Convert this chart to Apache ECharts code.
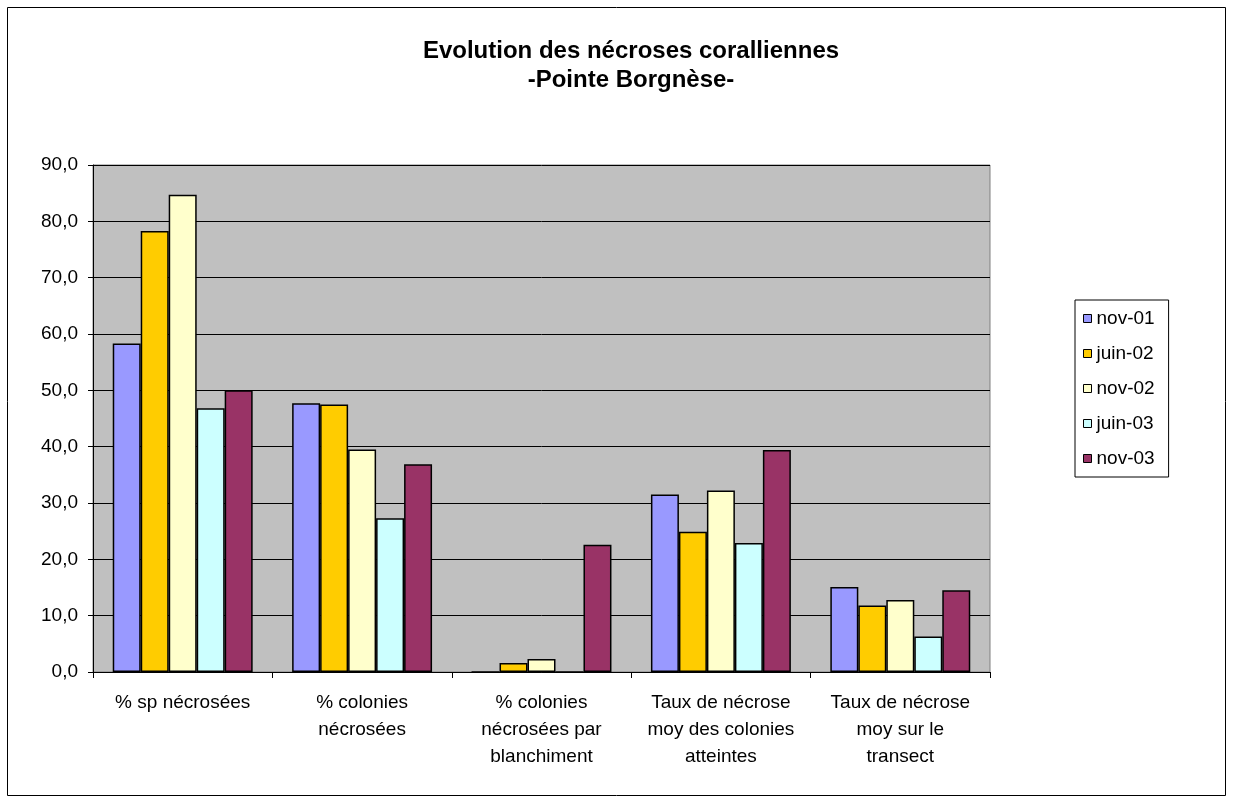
<!DOCTYPE html>
<html>
<head>
<meta charset="utf-8">
<script src="https://cdn.jsdelivr.net/npm/echarts@6/dist/echarts.min.js"></script>
<style>
  html, body { margin: 0; padding: 0; background: #ffffff; }
  #chart { width: 1233px; height: 801px; }
</style>
</head>
<body>
<div id="chart"></div>
<script>
// Categories along the x axis
const categories = [
  "% sp nécrosées",
  "% colonies\nnécrosées",
  "% colonies\nnécrosées par\nblanchiment",
  "Taux de nécrose\nmoy des colonies\natteintes",
  "Taux de nécrose\nmoy sur le\ntransect"
];

// One series per survey date
const seriesNames = ["nov-01", "juin-02", "nov-02", "juin-03", "nov-03"];
const nov01  = [58.3, 47.7, 0.0, 31.5, 15.1];
const juin02 = [78.3, 47.5, 1.6, 24.9, 11.8];
const nov02  = [84.7, 39.5, 2.3, 32.2, 12.8];
const juin03 = [46.8, 27.3, 0.0, 22.9, 6.3];
const nov03  = [50.0, 36.9, 22.6, 39.4, 14.5];
const seriesValues = [nov01, juin02, nov02, juin03, nov03];
const seriesColors = ["#9999FF", "#FFCC00", "#FFFFCC", "#CCFFFF", "#993366"];

const FONT = "Liberation Sans, Arial, sans-serif";

const chart = echarts.init(document.getElementById("chart"), null, { renderer: "canvas" });

chart.setOption({
  animation: false,
  backgroundColor: "#ffffff",
  textStyle: { fontFamily: FONT, color: "#000" },
  title: {
    text: "Evolution des nécroses coralliennes\n-Pointe Borgnèse-",
    left: 626,
    top: 32,
    textAlign: "center",
    textStyle: { fontFamily: FONT, fontSize: 24, fontWeight: "bold", color: "#000", lineHeight: 29 }
  },
  graphic: [{
    type: "rect",
    shape: { x: 7.5, y: 7.5, width: 1218, height: 788 },
    style: { fill: "none", stroke: "#000", lineWidth: 1 },
    silent: true
  }],
  legend: {
    orient: "vertical",
    left: 1075,
    top: 300,
    padding: [9, 14, 9, 8],
    itemWidth: 8,
    itemHeight: 8,
    itemGap: 16,
    borderColor: "#000",
    borderWidth: 1,
    backgroundColor: "#fff",
    icon: "rect",
    textStyle: { fontFamily: FONT, fontSize: 19, color: "#000", lineHeight: 19, padding: [0, 0, 0, 0] },
    data: seriesNames.map((n, i) => ({
      name: n,
      itemStyle: { color: seriesColors[i], borderColor: "#000", borderWidth: 1 }
    }))
  },
  grid: {
    left: 93,
    right: 1233 - 990,
    top: 165,
    bottom: 801 - 672,
    show: true,
    backgroundColor: "#C0C0C0",
    borderColor: "#808080",
    borderWidth: 1,
    containLabel: false
  },
  xAxis: {
    type: "category",
    data: categories,
    axisLine: { show: true, lineStyle: { color: "#000", width: 1 } },
    axisTick: { show: true, alignWithLabel: false, length: 6, lineStyle: { color: "#000" } },
    axisLabel: { fontFamily: FONT, fontSize: 19, color: "#000", lineHeight: 27, margin: 17, interval: 0 }
  },
  yAxis: {
    type: "value",
    min: 0,
    max: 90,
    interval: 10,
    axisLine: { show: true, lineStyle: { color: "#000", width: 1 } },
    axisTick: { show: true, length: 5, lineStyle: { color: "#000" } },
    axisLabel: {
      fontFamily: FONT, fontSize: 19, color: "#000", margin: 15,
      formatter: v => v.toFixed(1).replace(".", ",")
    },
    splitLine: { show: true, lineStyle: { color: "#000", width: 1 } }
  },
  series: seriesNames.map((n, i) => ({
    name: n,
    type: "bar",
    data: seriesValues[i],
    barGap: "0%",
    barCategoryGap: "22%",
    itemStyle: { color: seriesColors[i], borderColor: "#000", borderWidth: 1.5 }
  }))
});
</script>
</body>
</html>
